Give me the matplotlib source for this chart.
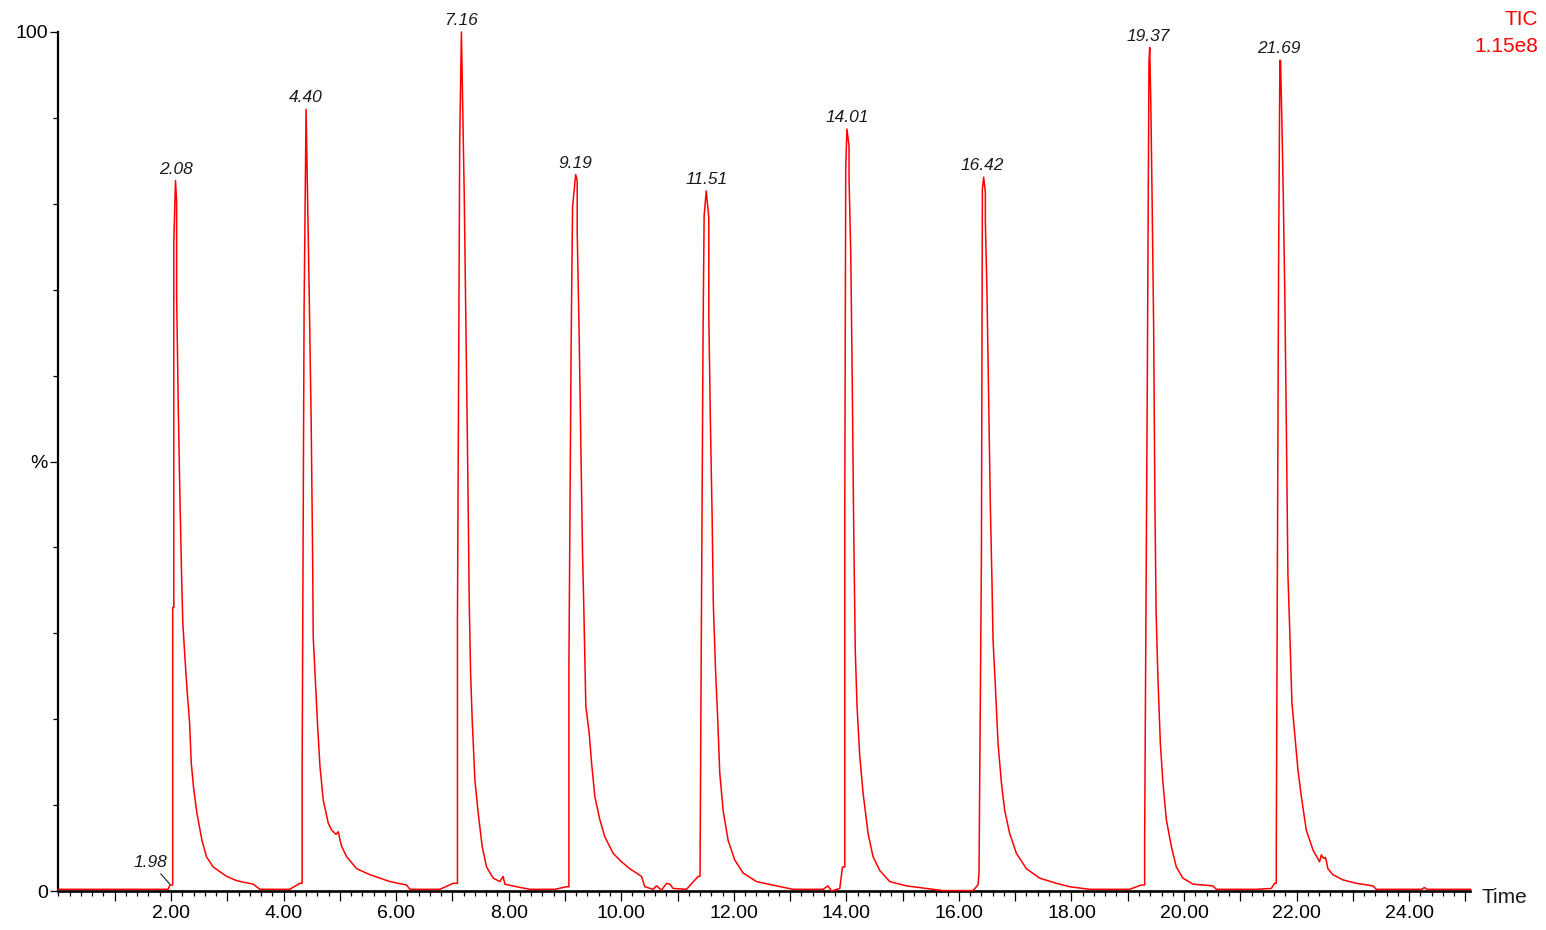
import numpy as np
import matplotlib.pyplot as plt
from matplotlib.ticker import MultipleLocator, FixedLocator, FuncFormatter

plt.rcParams['font.family'] = ['Liberation Sans', 'DejaVu Sans']

# TIC trace: time in minutes, intensity in % of 1.15e8
t_lead = [0.00, 1.95, 1.98, 2.03]
y_lead = [0.2, 0.2, 0.7, 0.7]

t_p1 = [2.03, 2.05, 2.05, 2.08, 2.10, 2.10, 2.13, 2.16, 2.19, 2.21, 2.25, 2.29, 2.33,
        2.36, 2.40, 2.46, 2.55, 2.63, 2.75, 2.99, 3.17, 3.46, 3.58, 4.11, 4.29]
y_p1 = [33.0, 33.0, 75.6, 82.7, 80.2, 69.4, 56.0, 45.4, 36.2, 31.2, 26.9, 23.0, 19.6,
        14.9, 12.1, 9.1, 5.9, 4.0, 2.8, 1.7, 1.2, 0.8, 0.2, 0.2, 0.9]

t_p2 = [4.33, 4.33, 4.365, 4.40, 4.42, 4.456, 4.492, 4.517, 4.527, 4.570, 4.606,
        4.647, 4.705, 4.794, 4.854, 4.931, 4.972, 5.002, 5.032, 5.121, 5.298, 5.535,
        5.890, 6.187, 6.245, 6.778, 7.014]
y_p2 = [0.9, 13.8, 67.8, 91.0, 83.4, 69.5, 54.0, 38.5, 29.6, 23.8, 19.1,
        14.5, 10.6, 7.9, 7.1, 6.6, 6.9, 6.0, 5.2, 4.0, 2.6, 1.9,
        1.1, 0.7, 0.2, 0.2, 0.9]

t_p3 = [7.09, 7.09, 7.13, 7.16, 7.18, 7.21, 7.24, 7.275, 7.298, 7.323, 7.352,
        7.400, 7.458, 7.529, 7.607, 7.725, 7.844, 7.902, 7.933, 8.140, 8.377, 8.821, 9.028]
y_p3 = [0.9, 31.6, 87.3, 100.0, 92.2, 81.2, 65.7, 48.0, 34.2, 25.4, 19.9,
        12.9, 9.1, 5.2, 2.8, 1.5, 1.1, 1.7, 0.8, 0.5, 0.2, 0.2, 0.5]

t_p4 = [9.07, 9.07, 9.11, 9.135, 9.19, 9.217, 9.217, 9.252, 9.282, 9.312, 9.335, 9.371,
        9.430, 9.473, 9.531, 9.620, 9.709, 9.856, 10.005, 10.153, 10.361, 10.419, 10.567,
        10.627, 10.716, 10.805, 10.863, 10.922, 11.160, 11.366]
y_p4 = [0.5, 26.0, 63.8, 79.6, 83.4, 82.7, 77.0, 64.8, 51.8, 39.4, 33.0, 21.5,
        18.4, 14.9, 11.0, 8.3, 6.3, 4.4, 3.4, 2.6, 1.7, 0.5, 0.2,
        0.6, 0.1, 0.9, 0.8, 0.3, 0.2, 1.7]

t_p5 = [11.40, 11.42, 11.455, 11.473, 11.51, 11.556, 11.556, 11.586, 11.615, 11.636,
        11.675, 11.710, 11.751, 11.810, 11.899, 12.018, 12.165, 12.403, 12.758, 13.053,
        13.586, 13.675, 13.735, 13.883, 13.931]
y_p5 = [1.7, 26.3, 66.0, 78.6, 81.5, 78.4, 67.0, 53.9, 43.6, 33.5,
        25.8, 20.7, 13.7, 9.4, 5.9, 3.6, 2.1, 1.1, 0.6, 0.2,
        0.2, 0.6, 0.0, 0.3, 2.8]

t_p6 = [13.972, 13.972, 13.989, 14.01, 14.048, 14.048, 14.078, 14.101, 14.131, 14.158,
        14.190, 14.238, 14.297, 14.386, 14.474, 14.593, 14.771, 15.068, 15.423, 15.718,
        16.250, 16.339]
y_p6 = [2.8, 44.6, 84.2, 88.7, 86.7, 82.9, 74.3, 61.5, 42.1, 28.1,
        21.5, 15.7, 11.4, 6.7, 4.0, 2.4, 1.1, 0.6, 0.3, 0.05,
        0.05, 0.7]

t_p7 = [16.357, 16.40, 16.417, 16.44, 16.47, 16.47, 16.499, 16.529, 16.559, 16.588,
        16.606, 16.648, 16.695, 16.755, 16.813, 16.902, 17.021, 17.199, 17.435, 17.732,
        17.968, 18.323, 19.034, 19.241]
y_p7 = [2.1, 39.0, 81.7, 83.1, 81.3, 77.8, 69.5, 57.4, 44.6, 35.9,
        29.3, 23.8, 17.2, 12.6, 9.4, 6.7, 4.4, 2.6, 1.5, 0.9,
        0.5, 0.2, 0.2, 0.7]

t_p8 = [19.30, 19.30, 19.348, 19.377, 19.39, 19.41, 19.43, 19.46, 19.483, 19.504,
        19.537, 19.579, 19.625, 19.686, 19.774, 19.863, 19.980, 20.158, 20.513, 20.574,
        21.284, 21.550, 21.609]
y_p8 = [0.7, 5.9, 60.2, 96.5, 98.2, 91.6, 81.9, 65.7, 44.8, 32.4,
        24.6, 17.2, 12.6, 8.3, 5.2, 2.8, 1.5, 0.8, 0.6, 0.2,
        0.2, 0.3, 0.9]

t_p9 = [21.639, 21.639, 21.680, 21.703, 21.715, 21.739, 21.764, 21.792, 21.817, 21.846,
        21.876, 21.917, 21.965, 22.024, 22.084, 22.172, 22.290, 22.409, 22.439, 22.480,
        22.515, 22.556, 22.645, 22.823, 23.061, 23.356, 23.416, 24.22, 24.27, 24.32, 25.09]
y_p9 = [0.9, 5.0, 72.7, 96.7, 96.7, 89.4, 80.8, 68.7, 54.5, 36.8,
        30.8, 21.9, 18.4, 14.1, 11.0, 7.1, 4.8, 3.4, 4.2, 3.8,
        3.9, 2.6, 1.9, 1.3, 0.9, 0.6, 0.2, 0.2, 0.4, 0.2, 0.2]

# labelled peaks (retention time, apex height)
peak_rt = [2.08, 4.40, 7.16, 9.19, 11.51, 14.01, 16.42, 19.37, 21.69]
peak_top = [82.7, 91.0, 100.0, 83.4, 81.5, 88.7, 83.1, 98.2, 96.7]

# small shoulder labelled at the foot of the first peak
foot_rt = 1.98
foot_top = 0.8

time = np.concatenate([t_lead, t_p1, t_p2, t_p3, t_p4, t_p5, t_p6, t_p7, t_p8, t_p9])
tic = np.concatenate([y_lead, y_p1, y_p2, y_p3, y_p4, y_p5, y_p6, y_p7, y_p8, y_p9])

fig = plt.figure(figsize=(15.46, 9.30), dpi=100)
ax = fig.add_axes([0.0378, 0.0419, 0.9130, 0.9237])

ax.plot(time, tic, color='#ff0000', lw=1.1, clip_on=False, zorder=3)

for rt, top in zip(peak_rt, peak_top):
    ax.annotate(f"{rt:.2f}", xy=(rt, top), xytext=(0, 5), textcoords='offset points',
                ha='center', va='baseline', fontsize=12.5, style='italic', color='#1a1a1a')

ax.annotate(f"{foot_rt:.2f}", xy=(foot_rt, foot_top), xytext=(1.64, 2.8),
            ha='center', va='baseline', fontsize=12.5, style='italic', color='#1a1a1a',
            arrowprops=dict(arrowstyle='-', color='#1a1a1a', lw=0.8, shrinkA=1, shrinkB=0))

ax.set_xlim(0, 25.08)
ax.set_ylim(0, 100)

for s in ['top', 'right']:
    ax.spines[s].set_visible(False)
ax.spines['left'].set_linewidth(1.6)
ax.spines['bottom'].set_linewidth(1.9)

ax.xaxis.set_major_locator(FixedLocator(np.arange(1, 26)))
ax.xaxis.set_minor_locator(MultipleLocator(0.2))
ax.xaxis.set_major_formatter(FuncFormatter(lambda v, p: f"{v:.2f}" if round(v) % 2 == 0 else ""))
ax.tick_params(axis='x', which='major', length=7, width=0.9, pad=3, labelsize=14)
ax.tick_params(axis='x', which='minor', length=3.6, width=0.9)

ax.yaxis.set_major_locator(FixedLocator([0, 50, 100]))
ax.yaxis.set_minor_locator(MultipleLocator(10))
ax.set_yticklabels(['0', '%', '100'])
ax.tick_params(axis='y', which='major', length=5.5, width=0.9, pad=2, labelsize=14)
ax.tick_params(axis='y', which='minor', length=3.6, width=0.9)

fig.text(0.9584, 0.0294, 'Time', ha='left', va='baseline', fontsize=15, color='#1a1a1a')
fig.text(0.9948, 0.9731, 'TIC', ha='right', va='baseline', fontsize=15, color='#ff0000')
fig.text(0.9948, 0.9441, '1.15e8', ha='right', va='baseline', fontsize=15, color='#ff0000')

fig.savefig('out.png', dpi=100)
